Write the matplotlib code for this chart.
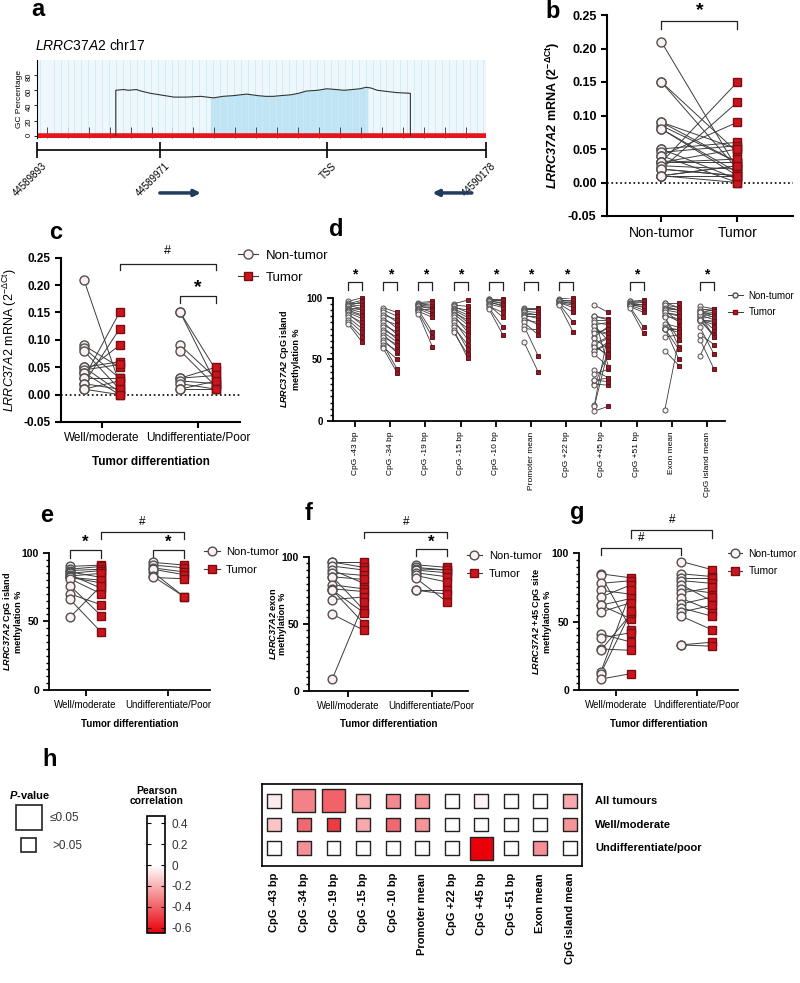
import numpy as np
import matplotlib
matplotlib.use('Agg')
import matplotlib.pyplot as plt
from matplotlib.lines import Line2D
from matplotlib.patches import Rectangle
from matplotlib.colors import LinearSegmentedColormap, Normalize
from matplotlib.ticker import MultipleLocator, NullFormatter
import matplotlib.cm as cm

plt.rcParams['font.family'] = ['Liberation Sans', 'DejaVu Sans']
plt.rcParams['mathtext.fontset'] = 'custom'
plt.rcParams['mathtext.rm'] = 'Liberation Sans'
plt.rcParams['mathtext.it'] = 'Liberation Sans:italic'
plt.rcParams['mathtext.bf'] = 'Liberation Sans:bold'
plt.rcParams['mathtext.bfit'] = 'Liberation Sans:italic:bold'
plt.rcParams['axes.unicode_minus'] = False

# ---------------- data ----------------
# panel a: CpG island map
region_start = 44589893
region_end = 44590178
ruler_pos = [44589893, 44589971, 44590077, 44590178]
ruler_labels = ['44589893', '44589971', 'TSS', '44590178']
gc_offset = [50, 50, 55, 58, 63, 66, 72, 78, 87, 95, 104, 112, 118, 125, 133, 140, 145, 150,
             155, 161, 166, 171, 178, 184, 190, 195, 200, 205, 209, 212, 216, 220, 228, 237, 237]
gc_value = [0, 60, 61, 60, 61, 59, 56, 54, 51, 51, 52, 50, 52, 53, 55, 53, 52, 52,
            53, 54, 56, 59, 60, 62, 61, 60, 61, 62, 64, 63, 60, 59, 57, 56, 0]
amplicon = [44590003, 44590103]
primer_fwd = [44589971, 44589997]
primer_rev = [44590169, 44590144]

# panel c: mRNA by differentiation (non-tumor, tumor pairs)
c_well_nt = [0.21, 0.09, 0.085, 0.08, 0.05, 0.05, 0.045, 0.04, 0.04, 0.03, 0.03, 0.02, 0.02, 0.01, 0.01]
c_well_t = [0.02, 0.05, 0.03, 0.01, 0.06, 0.005, 0.055, 0.09, 0.0, 0.15, 0.03, 0.12, 0.01, 0.025, 0.0]
c_und_nt = [0.15, 0.15, 0.09, 0.08, 0.03, 0.03, 0.025, 0.02, 0.01, 0.01]
c_und_t = [0.045, 0.02, 0.03, 0.015, 0.05, 0.035, 0.02, 0.01, 0.025, 0.01]
# panel b: all tumours
b_nt = c_well_nt + c_und_nt
b_t = c_well_t + c_und_t

# panel e: CpG island mean methylation
e_well_nt = [90, 88, 87, 86, 85, 84, 83, 82, 82, 81, 76, 70, 66, 53]
e_well_t = [91, 90, 88, 82, 87, 74, 85, 78, 80, 70, 54, 62, 42, 76]
e_und_nt = [93, 91, 89, 86, 88, 83, 82]
e_und_t = [91, 89, 86, 68, 84, 68, 81]
# panel f: exon mean methylation
f_well_nt = [96, 96, 93, 90, 88, 85, 85, 79, 76, 75, 75, 68, 57, 9]
f_well_t = [96, 92, 90, 80, 86, 83, 60, 76, 74, 58, 50, 70, 45, 66]
f_und_nt = [94, 92, 91, 90, 88, 86, 84, 75, 75]
f_und_t = [92, 90, 90, 88, 85, 81, 66, 75, 72]
# panel g: +45 CpG site methylation
g_well_nt = [85, 84, 78, 73, 68, 62, 62, 57, 41, 38, 30, 29, 13, 12, 8]
g_well_t = [82, 44, 80, 70, 77, 67, 52, 64, 35, 42, 29, 56, 73, 58, 12]
g_und_nt = [94, 85, 82, 80, 77, 74, 71, 67, 63, 60, 57, 54, 33, 33]
g_und_t = [88, 83, 82, 78, 65, 71, 75, 58, 68, 54, 62, 44, 35, 32]

# panel d: methylation per CpG site
nt_m43 = [97, 96, 95, 94, 93, 93, 92, 91, 90, 90, 89, 88, 87, 86, 84, 82, 80, 79]
t_m43 = [100, 96, 98, 91, 94, 97, 90, 88, 92, 86, 85, 83, 78, 80, 75, 72, 68, 64]
nt_m34 = [92, 90, 88, 86, 84, 82, 80, 78, 76, 74, 72, 70, 68, 66, 64, 62, 60, 59]
t_m34 = [88, 85, 80, 82, 75, 78, 70, 72, 66, 68, 64, 60, 62, 55, 57, 42, 50, 39]
nt_m19 = [96, 95, 95, 94, 93, 93, 92, 91, 91, 90, 89, 88, 87]
t_m19 = [97, 94, 96, 93, 92, 91, 88, 90, 86, 72, 84, 68, 60]
nt_m15 = [95, 94, 93, 92, 91, 90, 89, 88, 87, 86, 84, 82, 80, 78, 76, 74, 72]
t_m15 = [98, 93, 88, 90, 86, 84, 80, 82, 78, 72, 75, 66, 70, 58, 62, 51, 54]
nt_m10 = [99, 99, 98, 98, 97, 97, 96, 95, 94, 93, 92, 91]
t_m10 = [99, 97, 98, 95, 96, 93, 94, 92, 84, 88, 76, 70]
nt_prom = [92, 91, 90, 89, 88, 87, 86, 85, 84, 82, 80, 77, 75, 64]
t_prom = [92, 90, 91, 88, 86, 87, 83, 85, 78, 80, 70, 53, 74, 40]
nt_p22 = [99, 98, 98, 97, 97, 96, 96, 95, 95, 94]
t_p22 = [100, 97, 98, 95, 96, 92, 94, 88, 80, 72]
nt_p51 = [97, 97, 96, 96, 95, 95, 94, 94, 93, 93, 92]
t_p51 = [98, 96, 97, 94, 95, 92, 93, 90, 88, 76, 71]
d_sites = ['CpG -43 bp', 'CpG -34 bp', 'CpG -19 bp', 'CpG -15 bp', 'CpG -10 bp', 'Promoter mean',
           'CpG +22 bp', 'CpG +45 bp', 'CpG +51 bp', 'Exon mean', 'CpG island mean']
d_nt = [nt_m43, nt_m34, nt_m19, nt_m15, nt_m10, nt_prom, nt_p22,
        g_well_nt + g_und_nt, nt_p51, f_well_nt + f_und_nt, e_well_nt + e_und_nt]
d_t = [t_m43, t_m34, t_m19, t_m15, t_m10, t_prom, t_p22,
       g_well_t + g_und_t, t_p51, f_well_t + f_und_t, e_well_t + e_und_t]
d_sig = [1, 1, 1, 1, 1, 1, 1, 0, 1, 0, 1]

# panel h: Pearson correlation with mRNA
h_rows = ['All tumours', 'Well/moderate', 'Undifferentiate/poor']
r_all = [-0.05, -0.32, -0.40, -0.20, -0.30, -0.27, 0.10, -0.03, 0.10, 0.10, -0.22]
r_well = [-0.15, -0.38, -0.50, -0.22, -0.38, -0.27, 0.10, 0.10, 0.10, 0.10, -0.27]
r_und = [0.10, -0.28, 0.10, 0.10, 0.10, 0.10, 0.10, -0.65, 0.10, -0.28, 0.10]
sig_all = [0, 1, 1, 0, 0, 0, 0, 0, 0, 0, 0]
sig_well = [0, 0, 0, 0, 0, 0, 0, 0, 0, 0, 0]
sig_und = [0, 0, 0, 0, 0, 0, 0, 1, 0, 0, 0]

# ---------------- helpers ----------------
W, H = 800, 983
fig = plt.figure(figsize=(8, 9.83), dpi=100)

NT_FACE, NT_EDGE = '#fcf0f0', '#505050'
T_FACE, T_EDGE = '#c9151e', '#7d0c10'
LINE = '#3c3c3c'


def px_ax(x0, y0, x1, y1):
    return fig.add_axes([x0 / W, 1 - y1 / H, (x1 - x0) / W, (y1 - y0) / H])


def panel_label(x, y, s):
    fig.text(x / W, 1 - y / H, s, fontsize=17, fontweight='bold', ha='center', va='center')


def paired(ax, x_nt, x_t, nt, t, ms=6.5, lw=0.7, tface=T_FACE, tedge=T_EDGE, mew=1.0):
    for a, b in zip(nt, t):
        ax.plot([x_nt, x_t], [a, b], color=LINE, lw=lw, zorder=2)
    ax.plot([x_nt] * len(nt), nt, 'o', ms=ms, mfc=NT_FACE, mec=NT_EDGE, mew=mew, zorder=3, clip_on=False)
    ax.plot([x_t] * len(t), t, 's', ms=ms - 0.5, mfc=tface, mec=tedge, mew=mew, zorder=3, clip_on=False)


def bracket(ax, x1, x2, y, drop, label, ty, fs, bold=True):
    ax.plot([x1, x1, x2, x2], [y - drop, y, y, y - drop], color='#222', lw=0.9, clip_on=False)
    ax.text((x1 + x2) / 2, ty, label, ha='center', va='center', fontsize=fs,
            fontweight='bold' if bold else 'normal', clip_on=False)


def style(ax, lw=1.3):
    ax.spines['top'].set_visible(False)
    ax.spines['right'].set_visible(False)
    ax.spines['left'].set_linewidth(lw)
    ax.spines['bottom'].set_linewidth(lw)
    ax.tick_params(width=lw, length=4)


def legend(ax, x, y, fs, ms, lw=0.8, hl=1.5):
    hs = [Line2D([], [], color=LINE, lw=lw, marker='o', ms=ms, mfc=NT_FACE, mec=NT_EDGE),
          Line2D([], [], color=LINE, lw=lw, marker='s', ms=ms - 0.5, mfc=T_FACE, mec=T_EDGE)]
    ax.legend(hs, ['Non-tumor', 'Tumor'], loc='center left', bbox_to_anchor=(x / W, 1 - y / H),
              bbox_transform=fig.transFigure, frameon=False, fontsize=fs, handlelength=hl,
              handletextpad=0.6, borderpad=0, borderaxespad=0, labelspacing=0.7)


# ---------------- panel a ----------------
panel_label(38, 10, 'a')
fig.text(35 / W, 1 - 45 / H, r'$\mathit{LRRC37A2}$ chr17', fontsize=10, va='center')
ax_a = px_ax(37, 60, 486, 138)
gx = region_start + np.array(gc_offset)
ax_a.set_facecolor('#eef8fc')
ax_a.xaxis.set_minor_locator(MultipleLocator(4.4))
ax_a.xaxis.set_major_locator(MultipleLocator(13.3))
ax_a.xaxis.set_major_formatter(NullFormatter())
ax_a.grid(which='minor', axis='x', color='#cdeaf6', lw=0.6)
hx = np.linspace(amplicon[0], amplicon[1], 200)
ax_a.fill_between(hx, 0, np.interp(hx, gx[1:-1], gc_value[1:-1]), color='#bfe5f5', lw=0)
ax_a.plot(gx, gc_value, color='#333333', lw=0.8)
ax_a.axhline(0, color='#e4161c', lw=4, zorder=1.7)
ax_a.set_xlim(region_start, region_end)
ax_a.set_ylim(-3, 100)
for s in ['top', 'right', 'bottom']:
    ax_a.spines[s].set_visible(False)
ax_a.spines['left'].set_linewidth(0.8)
ax_a.tick_params(axis='x', which='major', direction='in', length=8, width=0.6, color='#333333')
ax_a.tick_params(axis='x', which='minor', length=0)
ax_a.set_yticks([0, 20, 40, 60, 80])
ax_a.tick_params(axis='y', labelsize=5.5, length=2, width=0.6, pad=1, labelrotation=90)
ax_a.set_ylabel('GC Percentage', fontsize=6, labelpad=2)

ax_r = px_ax(37, 138, 486, 205)
ax_r.set_xlim(region_start, region_end)
ax_r.set_ylim(0, 1)
ax_r.axis('off')
ax_r.hlines(0.82, region_start, region_end, color='k', lw=1.2, clip_on=False)
ax_r.vlines(ruler_pos, 0.70, 0.94, color='k', lw=1.2, clip_on=False)
for p, lab in zip(ruler_pos, ruler_labels):
    ax_r.text(p + 3, 0.66, lab, rotation=45, ha='right', va='top', rotation_mode='anchor', fontsize=7)
for pr in (primer_fwd, primer_rev):
    ax_r.annotate('', xy=(pr[1], 0.18), xytext=(pr[0], 0.18),
                  arrowprops=dict(arrowstyle='-|>', color='#1f3b5e', lw=2.5, mutation_scale=9,
                                  shrinkA=0, shrinkB=0))

# ---------------- panel b ----------------
panel_label(553, 11, 'b')
ax_b = px_ax(607, 15, 793, 216)
style(ax_b, 1.5)
paired(ax_b, 1, 2, b_nt, b_t)
ax_b.axhline(0, color='k', ls=':', lw=1.2, zorder=1)
ax_b.set_ylim(-0.05, 0.25)
ax_b.set_xlim(0.286, 2.73)
ax_b.set_yticks(np.arange(-0.05, 0.26, 0.05))
ax_b.set_yticklabels([f'{v:.2f}' for v in np.arange(-0.05, 0.26, 0.05)], fontsize=9, fontweight='bold')
ax_b.set_xticks([1, 2])
ax_b.set_xticklabels(['Non-tumor', 'Tumor'], fontsize=10)
ax_b.set_ylabel(r'$\mathbfit{LRRC37A2}$ mRNA ($\mathbf{2^{-\Delta Ct}}$)', fontsize=9,
                fontweight='bold', labelpad=4)
bracket(ax_b, 1, 2, 0.2415, 0.0128, '*', 0.257, 14)

# ---------------- panel c ----------------
panel_label(56, 233, 'c')
ax_c = px_ax(61, 257.7, 240, 422)
style(ax_c, 1.5)
off = 0.185
paired(ax_c, 1 - off, 1 + off, c_well_nt, c_well_t)
paired(ax_c, 2 - off, 2 + off, c_und_nt, c_und_t)
ax_c.axhline(0, color='k', ls=':', lw=1.2, zorder=1)
ax_c.set_ylim(-0.05, 0.25)
ax_c.set_xlim(0.578, 2.435)
ax_c.set_yticks(np.arange(-0.05, 0.26, 0.05))
ax_c.set_yticklabels([f'{v:.2f}' for v in np.arange(-0.05, 0.26, 0.05)], fontsize=8.5, fontweight='bold')
ax_c.set_xticks([1, 2])
ax_c.set_xticklabels(['Well/moderate', 'Undifferentiate/Poor'], fontsize=8.5)
ax_c.set_xlabel('Tumor differentiation', fontsize=8.5, fontweight='bold', labelpad=8)
ax_c.set_ylabel(r'$\mathit{LRRC37A2}$ mRNA ($\mathrm{2^{-\Delta Ct}}$)', fontsize=9, labelpad=3)
bracket(ax_c, 1 + off, 2 + off, 0.2385, 0.011, '#', 0.262, 9, bold=False)
bracket(ax_c, 2 - off, 2 + off, 0.18, 0.0135, '*', 0.195, 14)
legend(ax_c, 238, 266.7, 9.5, 6.5)

# ---------------- panel d ----------------
panel_label(336, 229, 'd')
ax_d = px_ax(333, 297.7, 725, 421)
style(ax_d, 1.3)
for i, (nt, t) in enumerate(zip(d_nt, d_t)):
    paired(ax_d, i - 0.2, i + 0.2, nt, t, ms=3.6, lw=0.6, tface='#8e1b25', tedge='#6a1018', mew=0.7)
    if d_sig[i]:
        bracket(ax_d, i - 0.2, i + 0.2, 113, 7, '*', 118.5, 10)
ax_d.set_ylim(0, 100)
ax_d.set_xlim(-0.625, 10.51)
ax_d.set_yticks([0, 50, 100])
ax_d.yaxis.set_minor_locator(MultipleLocator(5))
ax_d.set_yticklabels(['0', '50', '100'], fontsize=7, fontweight='bold')
ax_d.tick_params(axis='y', which='minor', length=2.5, width=1)
ax_d.set_xticks(range(len(d_sites)))
ax_d.set_xticklabels(d_sites, rotation=90, fontsize=6)
ax_d.set_ylabel(r'$\mathbfit{LRRC37A2}$ CpG island' + '\nmethylation %', fontsize=6.5,
                fontweight='bold', labelpad=4)
legend(ax_d, 728, 304, 7, 3.6, lw=0.7)


# ---------------- panels e, f, g ----------------
def split_panel(box, xlim, well_nt, well_t, und_nt, und_t, ylabel, label_x, leg_xy, leg_fs=8):
    ax = px_ax(*box)
    style(ax, 1.3)
    paired(ax, 1 - 0.19, 1 + 0.19, well_nt, well_t, ms=6.3)
    paired(ax, 2 - 0.19, 2 + 0.19, und_nt, und_t, ms=6.3)
    ax.set_ylim(0, 100)
    ax.set_xlim(*xlim)
    ax.set_yticks([0, 50, 100])
    ax.yaxis.set_minor_locator(MultipleLocator(5))
    ax.tick_params(axis='y', which='minor', length=2.5, width=1)
    ax.set_yticklabels(['0', '50', '100'], fontsize=7.5, fontweight='bold')
    ax.set_xticks([1, 2])
    ax.set_xticklabels(['Well/moderate', 'Undifferentiate/Poor'], fontsize=7)
    ax.set_xlabel('Tumor differentiation', fontsize=7, fontweight='bold', labelpad=6)
    ax.set_ylabel(ylabel, fontsize=6.6, fontweight='bold', linespacing=1.0)
    ax.yaxis.set_label_coords((label_x - box[0]) / (box[2] - box[0]), 0.5)
    legend(ax, leg_xy[0], leg_xy[1], leg_fs, 6.3, hl=1.4)
    return ax


panel_label(47, 515, 'e')
ax_e = split_panel((49.3, 552.7, 210, 690), (0.56, 2.505), e_well_nt, e_well_t, e_und_nt, e_und_t,
                   r'$\mathbfit{LRRC37A2}$ CpG island' + '\nmethylation %', 23, (204, 561))
bracket(ax_e, 0.81, 1.19, 102, 5.5, '*', 107.5, 12)
bracket(ax_e, 1.19, 2.19, 115.3, 5, '#', 122.5, 8.5, bold=False)
bracket(ax_e, 1.81, 2.19, 102, 5.5, '*', 107.5, 12)

panel_label(309, 513, 'f')
ax_f = split_panel((309.3, 556.7, 468.3, 690.7), (0.532, 2.44), f_well_nt, f_well_t, f_und_nt, f_und_t,
                   r'$\mathbfit{LRRC37A2}$ exon' + '\nmethylation %', 287, (466.7, 565))
bracket(ax_f, 1.19, 2.19, 118.7, 5, '#', 126, 8.5, bold=False)
bracket(ax_f, 1.81, 2.19, 105.5, 5, '*', 111, 12)

panel_label(577, 513, 'g')
ax_g = split_panel((579.3, 553.3, 738.3, 690), (0.545, 2.515), g_well_nt, g_well_t, g_und_nt, g_und_t,
                   r'$\mathbfit{LRRC37A2}$ +45 CpG site' + '\nmethylation %', 552, (728, 562.5),
                   leg_fs=7.4)
bracket(ax_g, 1.19, 2.19, 117, 6, '#', 124.5, 8.5, bold=False)
bracket(ax_g, 0.81, 1.81, 103.7, 5, '#', 111, 8.5, bold=False)

# ---------------- panel h ----------------
panel_label(50, 760, 'h')
cmap = LinearSegmentedColormap.from_list('pc', [(0, '#e8000b'), (0.58, '#ffffff'), (1, '#ffffff')])
norm = Normalize(-0.65, 0.47)

ax_h = px_ax(262, 784, 582, 866)
vals = np.array([r_all, r_well, r_und])
sig = np.array([sig_all, sig_well, sig_und])
yy, xx = np.mgrid[0:3, 0:len(d_sites)]
sizes = np.where(sig.ravel() == 1, 275, 100)
ax_h.scatter(xx.ravel(), yy.ravel(), s=sizes, marker='s', c=vals.ravel(), cmap=cmap, norm=norm,
             edgecolors='#222222', linewidths=1)
ax_h.set_xlim(-0.42, 10.41)
ax_h.set_ylim(2.74, -0.70)
ax_h.set_yticks([])
ax_h.set_xticks(range(len(d_sites)))
ax_h.set_xticklabels(d_sites, rotation=90, fontsize=8, fontweight='bold')
ax_h.tick_params(axis='x', length=0, pad=5)
for s in ax_h.spines.values():
    s.set_linewidth(1.2)
for i, lab in enumerate(h_rows):
    ax_h.text(10.85, i, lab, fontsize=8, fontweight='bold', va='center', ha='left', clip_on=False)

cax = px_ax(147, 816, 165, 933)
cb = fig.colorbar(cm.ScalarMappable(norm=norm, cmap=cmap), cax=cax, ticks=[0.4, 0.2, 0, -0.2, -0.4, -0.6])
cb.ax.set_yticklabels(['0.4', '0.2', '0', '-0.2', '-0.4', '-0.6'], fontsize=8.5, color='#333333')
cax.tick_params(direction='in', left=True, right=True, length=3, width=0.8, pad=5)
cb.outline.set_linewidth(1.2)
fig.text(157 / W, 1 - 796 / H, 'Pearson\ncorrelation', fontsize=7.5, fontweight='bold',
         ha='center', va='center', linespacing=1.1)

ax_p = px_ax(0, 780, 130, 870)
ax_p.set_xlim(0, 130)
ax_p.set_ylim(870, 780)
ax_p.axis('off')
ax_p.text(30, 795, r'$\mathbfit{P}$-value', fontsize=8, fontweight='bold', ha='center', va='center')
ax_p.add_patch(Rectangle((16, 805), 26, 25, fill=False, ec='#222222', lw=1.2))
ax_p.add_patch(Rectangle((21, 838), 15, 14, fill=False, ec='#222222', lw=1.2))
ax_p.text(50, 818, '≤0.05', fontsize=8.5, va='center', color='#333333')
ax_p.text(52, 846, '>0.05', fontsize=8.5, va='center', color='#333333')

fig.savefig('out.png', dpi=100)
